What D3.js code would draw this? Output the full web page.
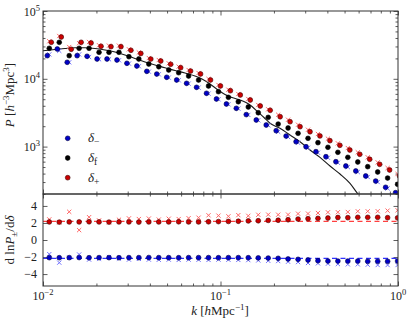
<!DOCTYPE html>
<html><head><meta charset="utf-8">
<script src="https://cdn.jsdelivr.net/npm/d3@7"></script>
<style>
body{margin:0;background:#fff;}
svg{display:block;}
text{font-family:"Liberation Serif","DejaVu Serif",serif;fill:#222;}
</style>
</head><body>
<svg id="c" width="413" height="323"></svg>
<script>
// ---------------- data ----------------
const kBins = [0.01085,0.01235,0.01405,0.01598,0.01818,0.02069,0.02354,0.02679,0.03048,0.03467,
  0.03946,0.04490,0.05108,0.05812,0.06611,0.07523,0.08560,0.09739,0.1108,0.1260,
  0.1434,0.1632,0.1857,0.2113,0.2403,0.2735,0.3112,0.3540,0.4029,0.4584,
  0.5216,0.5935,0.6751,0.7683,0.8739,0.9945];
// P(k) of fiducial, delta+ and delta- runs (circles)
const pFid = [28180,34510,21930,28180,28180,24600,24600,24600,21180,19590,
  16520,15070,13490,12300,10990,9590,7830,6460,5330,4590,
  3840,3160,2700,2150,1880,1570,1325,1143,977,824,
  695,593,506,422,344,278];
const pPlus = [34560,41330,27250,34560,33750,30170,29770,29770,26320,23620,
  19570,18290,16370,14580,13020,11770,9605,7838,6673,5766,
  4867,3970,3429,2758,2328,1965,1657,1435,1223,1045,
  890.6,770.2,650.4,547.8,451.9,368.5];
const pMinus = [21920,27500,17520,21920,21480,19600,19600,18940,16930,15450,
  12890,11760,10530,9601,8577,7485,6113,5039,4249,3670,
  2964,2468,2082,1715,1432,1181,995.6,842.2,710.2,598.8,
  517.2,436.9,368.8,310.7,251.1,209.0];
// crosses (second estimator)
const pPlusX = [35770,42780,29430,33520,34930,31230,30810,30810,27240,24450,
  20250,18930,16940,15090,13480,12180,9941,8112,6907,5968,
  5037,4109,3549,2951,2491,2103,1773,1535,1309,1118,
  952.9,824.1,695.9,586.1,483.5,394.3];
const pMinusX = [22910,25850,17520,22910,20940,19400,19400,18750,16760,15300,
  12760,11640,10420,9505,8491,7410,6052,4989,4207,3633,
  2934,2443,2061,1655,1382,1140,960.8,812.7,685.3,577.8,
  499.1,421.6,355.9,299.8,242.3,201.7];
// linear theory curve
const kLin = [0.01,0.01168,0.0133,0.01515,0.01724,0.01963,0.02235,0.02544,0.02897,0.03298,
  0.03755,0.04276,0.04868,0.05542,0.0631,0.07183,0.07865,0.08727,0.09681,0.106,
  0.1161,0.1288,0.1392,0.1505,0.1626,0.1758,0.1901,0.2164,0.2463,0.2805,
  0.3193,0.3636,0.4139,0.4712,0.5365,0.5975,0.6603];
const pLin = [25970,27050,27980,28650,28650,27980,26590,24850,22440,19930,
  17690,15980,14580,13260,12180,11000,9930,8380,6836,5868,
  5300,4868,4472,3904,3238,2687,2207,1862,1483,1181,
  891,695,517.5,394.5,287.5,198,157.6];
// response d lnP / d delta
const rPlus = [2.12,2.10,2.12,2.12,2.14,2.12,2.10,2.12,2.12,2.10,
  2.12,2.12,2.12,2.14,2.12,2.12,2.14,2.16,2.18,2.20,
  2.24,2.26,2.30,2.32,2.38,2.46,2.50,2.54,2.58,2.64,
  2.62,2.66,2.66,2.66,2.62,2.60];
const rPlusX = [2.42,2.06,3.31,1.16,2.68,2.30,2.06,2.38,2.54,2.46,
  2.52,2.40,2.50,2.46,2.56,2.62,2.90,2.86,2.78,2.92,
  2.84,2.96,2.98,2.97,2.98,3.09,3.10,3.17,3.25,3.26,
  3.29,3.37,3.37,3.38,3.45,3.49];
const rMinus = [-2.07,-2.08,-2.07,-2.06,-2.08,-2.07,-2.07,-2.08,-2.07,-2.07,
  -2.06,-2.07,-2.07,-2.08,-2.07,-2.07,-2.07,-2.08,-2.07,-2.07,
  -2.08,-2.10,-2.12,-2.15,-2.23,-2.27,-2.35,-2.43,-2.47,-2.47,
  -2.47,-2.47,-2.50,-2.50,-2.50,-2.47];
const rMinusX = [-1.66,-2.66,-2.10,-1.70,-2.30,-2.20,-2.00,-2.18,-2.30,-2.22,
  -2.30,-2.32,-2.30,-2.34,-2.30,-2.32,-2.34,-2.30,-2.32,-2.34,
  -2.36,-2.40,-2.44,-2.47,-2.55,-2.59,-2.70,-2.74,-2.78,-2.82,
  -2.86,-2.86,-2.90,-2.94,-2.94,-2.94];
const kDash = [0.01, 1];
const rPlusTheory = [2.18, 2.18];
const rMinusTheory = [-2.15, -2.15];
const legendLabels = [["δ","−"],["δ","f"],["δ","+"]];
const xMajor = [0.01,0.1,1];
const xTickLabels = [["10","−2"],["10","−1"],["10","0"]];
const yMajorTop = [1e3,1e4,1e5];
const yTickLabelsTop = [["10","3"],["10","4"],["10","5"]];
const yMajorBot = [-4,-2,0,2,4];

// ---------------- layout ----------------
const L=43,R=398,T=11,MID=194,B=286;
const svg = d3.select("#c");
const x = d3.scaleLog().domain([0.01,1]).range([L,R]);
const yTop = d3.scaleLog().domain([200,1e5]).range([MID,T]);
const yBot = d3.scaleLinear().domain([-5.4,5.4]).range([B,MID]);

const RED="#cc0000", BLUE="#0000c8", REDX="#ff6666", BLUEX="#7070ff";
const RAD = 2.4;

const defs = svg.append("defs");
defs.append("clipPath").attr("id","cT").append("rect").attr("x",L).attr("y",T).attr("width",R-L).attr("height",MID-T);
defs.append("clipPath").attr("id","cB").append("rect").attr("x",L).attr("y",MID).attr("width",R-L).attr("height",B-MID);

// minor ticks
const xMinor = [];
[0.01,0.1].forEach(d=>{for(let m=2;m<=9;m++) xMinor.push(d*m);});
const yMinorTop = [];
[100,1000,10000].forEach(d=>{for(let m=2;m<=9;m++){const v=d*m; if(v>=200&&v<=1e5) yMinorTop.push(v);}});

function tickAxis(gen, vals, size, tx, ty){
  const g = svg.append("g").attr("transform",`translate(${tx},${ty})`)
    .call(gen.tickValues(vals).tickSize(size).tickFormat(""));
  g.select(".domain").remove();
  g.selectAll("line").attr("stroke","#333").attr("stroke-width",0.8);
}
// top panel ticks
tickAxis(d3.axisBottom(x), xMajor, -4.5, 0, MID);
tickAxis(d3.axisBottom(x), xMinor, -2.5, 0, MID);
tickAxis(d3.axisTop(x), xMajor, -4.5, 0, T);
tickAxis(d3.axisTop(x), xMinor, -2.5, 0, T);
tickAxis(d3.axisLeft(yTop), yMajorTop, -4.5, L, 0);
tickAxis(d3.axisLeft(yTop), yMinorTop, -2.5, L, 0);
tickAxis(d3.axisRight(yTop), yMajorTop, -4.5, R, 0);
tickAxis(d3.axisRight(yTop), yMinorTop, -2.5, R, 0);
// bottom panel ticks
tickAxis(d3.axisBottom(x), xMajor, -4.5, 0, B);
tickAxis(d3.axisBottom(x), xMinor, -2.5, 0, B);
tickAxis(d3.axisTop(x), xMajor, -4.5, 0, MID);
tickAxis(d3.axisTop(x), xMinor, -2.5, 0, MID);
tickAxis(d3.axisLeft(yBot), yMajorBot, -4.5, L, 0);
tickAxis(d3.axisRight(yBot), yMajorBot, -4.5, R, 0);

// ---------- top panel ----------
const gT = svg.append("g").attr("clip-path","url(#cT)");
const lineTop = d3.line().x(d=>x(d[0])).y(d=>yTop(d[1])).curve(d3.curveMonotoneX);
gT.append("path").datum(kLin.map((k,i)=>[k,pLin[i]])).attr("d",lineTop)
  .attr("fill","none").attr("stroke","#1a1a1a").attr("stroke-width",1.1);

const crossPath = s => `M${-s},${-s}L${s},${s}M${-s},${s}L${s},${-s}`;
function crosses(g, xs, ys, color, dx){
  g.selectAll(null).data(xs).enter().append("path")
    .attr("transform",(d,i)=>`translate(${xs[i]+dx},${ys[i]})`)
    .attr("d",crossPath(2.1)).attr("stroke",color).attr("stroke-width",1).attr("fill","none");
}
function dots(g, xs, ys, fill, stroke, dx){
  g.selectAll(null).data(xs).enter().append("circle")
    .attr("cx",(d,i)=>xs[i]+dx).attr("cy",(d,i)=>ys[i]).attr("r",RAD)
    .attr("fill",fill).attr("stroke",stroke).attr("stroke-width",0.6);
}
const xk = kBins.map(k=>x(k));
crosses(gT, xk, pMinusX.map(v=>yTop(v)), BLUEX, 0);
dots(gT, xk, pMinus.map(v=>yTop(v)), BLUE, "#000040", -2);
dots(gT, xk, pFid.map(v=>yTop(v)), "#000", "#000", 0);
crosses(gT, xk, pPlusX.map(v=>yTop(v)), REDX, 0);
dots(gT, xk, pPlus.map(v=>yTop(v)), RED, "#400000", 2);

// legend
const legColors = [[BLUE,"#000040"],["#000","#000"],[RED,"#400000"]];
legendLabels.forEach((lab,i)=>{
  const yy = 138.3 + i*19.7;
  svg.append("circle").attr("cx",67.7).attr("cy",yy).attr("r",RAD)
    .attr("fill",legColors[i][0]).attr("stroke",legColors[i][1]).attr("stroke-width",0.6);
  const t = svg.append("text").attr("x",88).attr("y",yy+4).attr("font-size",13);
  t.append("tspan").attr("font-style","italic").text(lab[0]);
  t.append("tspan").attr("dy",3).attr("font-size",9.5).text(lab[1]);
});

// ---------- bottom panel ----------
const gB = svg.append("g").attr("clip-path","url(#cB)");
const lineBot = d3.line().x(d=>x(d[0])).y(d=>yBot(d[1]));
gB.append("path").datum(kDash.map((k,i)=>[k,rPlusTheory[i]])).attr("d",lineBot)
  .attr("fill","none").attr("stroke","#ff4040").attr("stroke-width",1.2).attr("stroke-dasharray","5,3.5");
gB.append("path").datum(kDash.map((k,i)=>[k,rMinusTheory[i]])).attr("d",lineBot)
  .attr("fill","none").attr("stroke","#3030ff").attr("stroke-width",1.2).attr("stroke-dasharray","5,3.5");
crosses(gB, xk, rPlusX.map(v=>yBot(v)), REDX, 0);
crosses(gB, xk, rMinusX.map(v=>yBot(v)), BLUEX, 0);
dots(gB, xk, rPlus.map(v=>yBot(v)), RED, "#400000", 0);
dots(gB, xk, rMinus.map(v=>yBot(v)), BLUE, "#000040", 0);

// frames
svg.append("rect").attr("x",L).attr("y",T).attr("width",R-L).attr("height",MID-T)
  .attr("fill","none").attr("stroke","#333").attr("stroke-width",1);
svg.append("rect").attr("x",L).attr("y",MID).attr("width",R-L).attr("height",B-MID)
  .attr("fill","none").attr("stroke","#333").attr("stroke-width",1);

// ---------- tick labels ----------
xMajor.forEach((v,i)=>{
  const t = svg.append("text").attr("x",x(v)).attr("y",300).attr("text-anchor","middle").attr("font-size",12);
  t.append("tspan").text(xTickLabels[i][0]);
  t.append("tspan").attr("dy",-5).attr("font-size",8.5).text(xTickLabels[i][1]);
});
yMajorTop.forEach((v,i)=>{
  const t = svg.append("text").attr("x",40).attr("y",yTop(v)+4.5).attr("text-anchor","end").attr("font-size",12);
  t.append("tspan").text(yTickLabelsTop[i][0]);
  t.append("tspan").attr("dy",-5).attr("font-size",8.5).text(yTickLabelsTop[i][1]);
});
yMajorBot.forEach(v=>{
  svg.append("text").attr("x",37).attr("y",yBot(v)+4).attr("text-anchor","end").attr("font-size",12)
    .text(v<0 ? "−"+Math.abs(v) : String(v));
});

// ---------- axis labels ----------
{
  const t = svg.append("text").attr("transform","translate(14,95) rotate(-90)").attr("text-anchor","middle").attr("font-size",13);
  t.append("tspan").attr("font-style","italic").text("P");
  t.append("tspan").text(" [");
  t.append("tspan").attr("font-style","italic").text("h");
  t.append("tspan").attr("dy",-5).attr("font-size",9).text("−3");
  t.append("tspan").attr("dy",5).text("Mpc");
  t.append("tspan").attr("dy",-5).attr("font-size",9).text("3");
  t.append("tspan").attr("dy",5).text("]");
}
{
  const t = svg.append("text").attr("transform","translate(14,240) rotate(-90)").attr("text-anchor","middle").attr("font-size",13);
  t.append("tspan").text("d ln");
  t.append("tspan").attr("font-style","italic").text("P");
  t.append("tspan").attr("dy",3).attr("font-size",9).text("±");
  t.append("tspan").attr("dy",-3).text("/d");
  t.append("tspan").attr("font-style","italic").text("δ");
}
{
  const t = svg.append("text").attr("x",220).attr("y",315).attr("text-anchor","middle").attr("font-size",13);
  t.append("tspan").attr("font-style","italic").text("k");
  t.append("tspan").text(" [");
  t.append("tspan").attr("font-style","italic").text("h");
  t.append("tspan").text("Mpc");
  t.append("tspan").attr("dy",-5).attr("font-size",9).text("−1");
  t.append("tspan").attr("dy",5).text("]");
}
</script>
</body></html>
